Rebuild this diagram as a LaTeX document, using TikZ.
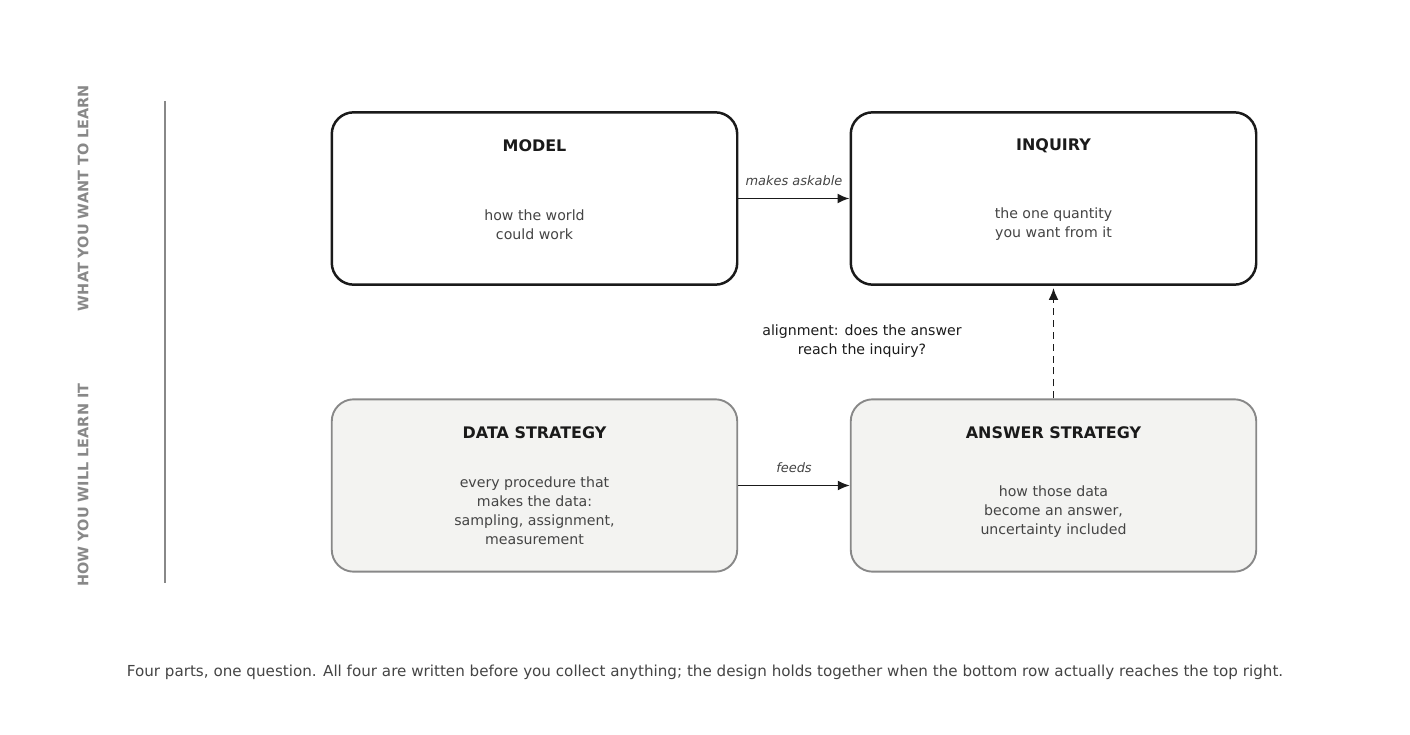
\documentclass[tikz,border=0pt]{standalone}
\usepackage{fontspec}
\setmainfont{DejaVu Sans}
\usetikzlibrary{arrows.meta,positioning}
\definecolor{ink}{HTML}{1A1A1A}
\definecolor{soft}{HTML}{444444}
\definecolor{rule}{HTML}{888888}
\definecolor{pale}{HTML}{F3F3F1}
\tikzset{
  top/.style={draw=ink, line width=2.5pt, rounded corners=22, fill=white,
    minimum width=407, minimum height=173, inner sep=0},
  bottom/.style={draw=rule, line width=1.9pt, rounded corners=22, fill=pale,
    minimum width=407, minimum height=173, inner sep=0},
  title/.style={font=\fontsize{16}{19}\selectfont\bfseries, text=ink},
  body/.style={font=\fontsize{14.2}{19}\selectfont, text=soft, align=center},
  tag/.style={font=\fontsize{13}{15}\selectfont\itshape, text=soft},
  side/.style={font=\fontsize{14.5}{16}\selectfont\bfseries, text=rule, rotate=90},
  link/.style={-{Latex[length=12pt,width=10pt]}, line width=1.9pt, draw=ink}
}
\begin{document}
\begin{tikzpicture}[x=0.03528cm, y=-0.03528cm]
\useasboundingbox (0,0) rectangle (1410,735);

% Boxes
\node[top] (model) at (534.5,198.5) {};
\node[top] (inquiry) at (1053.5,198.5) {};
\node[bottom] (data) at (534.5,485.5) {};
\node[bottom] (answer) at (1053.5,485.5) {};

% Titles and texts
\node[title] (modelT) at (534.5,146) {MODEL};
\node[body] (modelB) at (534.5,225) {how the world\\could work};
\node[title] (inquiryT) at (1053.5,146) {INQUIRY};
\node[body] (inquiryB) at (1053.5,224) {the one quantity\\you want from it};
\node[title] (dataT) at (534.5,433) {DATA STRATEGY};
\node[body] (dataB) at (534.5,511) {every procedure that\\makes the data:\\sampling, assignment,\\measurement};
\node[title] (answerT) at (1053.5,433) {ANSWER STRATEGY};
\node[body] (answerB) at (1053.5,512) {how those data\\become an answer,\\uncertainty included};

% Connectors
\draw[link] (model.east) -- node[tag, above=9pt] {makes askable} (inquiry.west);
\draw[link] (data.east) -- node[tag, above=9pt] {feeds} (answer.west);
\draw[link, dashed, dash pattern=on 7pt off 5pt] (answer.north) -- ([yshift=-2]inquiry.south);
\node[body, text=ink] (align) at (862,341) {alignment: does the answer\\reach the inquiry?};

% Side labels
\node[side] (want) at (83,198) {WHAT YOU WANT TO LEARN};
\node[side] (how) at (83,485) {HOW YOU WILL LEARN IT};
\coordinate (ruleA) at (165,101);
\coordinate (ruleB) at (165,583);
\draw[rule, line width=1.8pt] (ruleA) -- (ruleB);

% Caption
\node[font=\fontsize{15.2}{18}\selectfont, text=soft] (caption) at (705,672)
  {Four parts, one question. All four are written before you collect anything; the design holds together when the bottom row actually reaches the top right.};
\end{tikzpicture}
\end{document}
